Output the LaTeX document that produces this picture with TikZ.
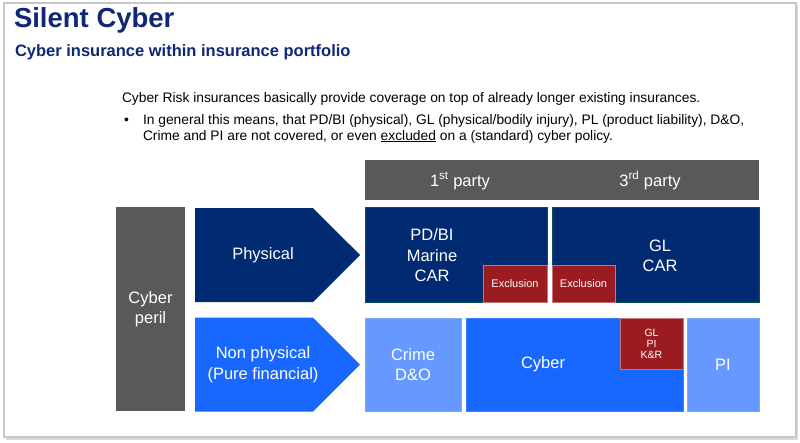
\documentclass[tikz,border=0pt]{standalone}
\usepackage{fontspec}
\setmainfont{Liberation Sans}
\usetikzlibrary{shapes.symbols}

\definecolor{titleblue}{RGB}{16,38,118}
\definecolor{darkblue}{RGB}{0,42,114}
\definecolor{brightblue}{RGB}{24,104,255}
\definecolor{lightblue}{RGB}{102,153,255}
\definecolor{exclred}{RGB}{155,28,32}
\definecolor{perilgray}{RGB}{89,89,89}

\begin{document}
\begin{tikzpicture}[
    x=1pt,
    y=-1pt,
    every node/.style={
        inner sep=0pt,
        outer sep=0pt
    },
    box/.style={
        rectangle,
        anchor=north west,
        line width=0.8pt
    },
    boxtext/.style={
        text=white,
        font=\fontsize{16.5}{20.5}\selectfont,
        align=center
    },
    smalltext/.style={
        text=white,
        font=\fontsize{10.5}{11}\selectfont,
        align=center
    },
    arrowbox/.style={
        signal,
        signal to=east,
        signal pointer angle=90,
        minimum width=165pt,
        minimum height=94pt,
        anchor=west
    },
    bodytext/.style={
        anchor=base west,
        font=\fontsize{13.8}{16}\selectfont,
        align=left
    }
]

\useasboundingbox (0,0) rectangle (800,442);
\fill[black!14] (6,5) rectangle (798,440);
\draw[black!22, line width=1.2pt, fill=white] (4,3) rectangle (796,437);

\node[anchor=base west, font=\fontsize{27.5}{32}\selectfont\bfseries, text=titleblue] (title) at (14,27) {Silent Cyber};
\node[anchor=base west, font=\fontsize{16.5}{20}\selectfont\bfseries, text=titleblue] (subtitle) at (15,56.5) {Cyber insurance within insurance portfolio};

\node[bodytext] (intro) at (122,102) {Cyber Risk insurances basically provide coverage on top of already longer existing insurances.};
\node[bodytext] (bullet) at (124,124) {\textbullet};
\node[bodytext] (bulletline) at (143,140) {In general this means, that PD/BI (physical), GL (physical/bodily injury), PL (product liability), D\&O,\\Crime and PI are not covered, or even \underline{excluded} on a (standard) cyber policy.};

\node[box, fill=perilgray, minimum width=394pt, minimum height=40pt] (header) at (365,160) {};
\node[boxtext, anchor=base] (firstparty) at (460,186) {1\textsuperscript{st} party};
\node[boxtext, anchor=base] (thirdparty) at (650,186) {3\textsuperscript{rd} party};

\node[box, fill=perilgray, minimum width=69pt, minimum height=204pt] (peril) at (116,207) {};
\node[boxtext] (perillabel) at (peril.center) {Cyber\\peril};

\node[arrowbox, fill=darkblue] (physical) at (195,255) {};
\node[boxtext] (physicallabel) at ([xshift=68pt]physical.west) {Physical};
\node[arrowbox, fill=brightblue] (nonphysical) at (195,364.5) {};
\node[boxtext] (nonphysicallabel) at ([xshift=68pt]nonphysical.west) {Non physical\\(Pure financial)};

\node[box, fill=darkblue, draw=darkblue!80!green, minimum width=182pt, minimum height=95pt] (pdbi) at (365,207) {};
\node[boxtext] (pdbilabel) at ([xshift=-24pt, yshift=-1pt]pdbi.center) {PD/BI\\Marine\\CAR};
\node[box, fill=darkblue, draw=darkblue!80!green, minimum width=207pt, minimum height=95pt] (glcar) at (552,207) {};
\node[boxtext] (glcarlabel) at ([xshift=4.5pt, yshift=-1.5pt]glcar.center) {GL\\CAR};

\node[box, fill=exclred, draw=exclred!60!white, minimum width=64pt, minimum height=37pt, smalltext, font=\fontsize{11}{12}\selectfont] (exclfirst) at (483,265) {Exclusion};
\node[box, fill=exclred, draw=exclred!60!white, minimum width=63pt, minimum height=37pt, smalltext, font=\fontsize{11}{12}\selectfont] (exclthird) at (552,265) {Exclusion};

\node[box, fill=lightblue, draw=lightblue!85!white, minimum width=96pt, minimum height=93pt] (crime) at (365,318) {};
\node[boxtext] (crimelabel) at (crime.center) {Crime\\D\&O};
\node[box, fill=brightblue, draw=brightblue!85!white, minimum width=217pt, minimum height=93pt] (cyber) at (466,318) {};
\node[boxtext] (cyberlabel) at ([xshift=-31.5pt]cyber.center) {Cyber};
\node[box, fill=exclred, draw=exclred!60!white, minimum width=63pt, minimum height=51pt, smalltext] (cyberexcl) at (620,318) {GL\\PI\\K\&R};
\node[box, fill=lightblue, draw=lightblue!85!white, minimum width=72pt, minimum height=93pt] (pi) at (687,318) {};
\node[boxtext] (pilabel) at (pi.center) {PI};

\end{tikzpicture}
\end{document}
